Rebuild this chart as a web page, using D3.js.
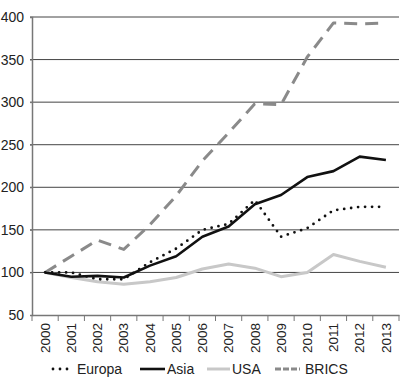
<!DOCTYPE html>
<html lang="en">
<head>
<meta charset="UTF-8">
<script src="https://d3js.org/d3.v7.min.js"></script>
<style>
  html, body { margin: 0; padding: 0; background: #fff; overflow: hidden; }
  text { font-family: "Liberation Sans", Arial, sans-serif; fill: #222; }
</style>
</head>
<body>
<svg id="chart" width="400" height="388"></svg>
<script>
// data (index, 2000 = 100)
const years = ["2000","2001","2002","2003","2004","2005","2006","2007","2008","2009","2010","2011","2012","2013"];
const europa = [100, 100, 92, 92, 112, 128, 150, 157, 185, 142, 152, 173, 177, 177];
const asia   = [100, 95, 96, 94, 108, 119, 142, 154, 180, 191, 212, 219, 236, 232];
const usa    = [100, 94, 89, 86, 89, 94, 104, 110, 105, 95, 100, 121, 113, 106];
const brics  = [100, 119, 138, 127, 156, 190, 231, 264, 298, 297, 353, 393, 392, 393];
const yTicks = [50, 100, 150, 200, 250, 300, 350, 400];

const series = [
  { name: "BRICS",  values: brics,  color: "#8a8a8a", width: 3,   dash: "13,8", cap: "butt" },
  { name: "USA",    values: usa,    color: "#c8c8c8", width: 3,   dash: null,   cap: "butt" },
  { name: "Asia",   values: asia,   color: "#111",    width: 2.6, dash: null,   cap: "butt" },
  { name: "Europa", values: europa, color: "#111",    width: 2.8, dash: "0,7",  cap: "round" }
];

const svg = d3.select("#chart");
const margin = { top: 17, right: 1, bottom: 73, left: 32 };
const width = 400 - margin.left - margin.right;
const height = 388 - margin.top - margin.bottom;
const g = svg.append("g").attr("transform", `translate(${margin.left},${margin.top})`);

const x = d3.scaleBand().domain(years).range([0, width]);
const y = d3.scaleLinear().domain([50, 400]).range([height, 0]);

// gridlines
g.append("g")
  .selectAll("line")
  .data(yTicks.slice(1))
  .join("line")
  .attr("x1", -2).attr("x2", width)
  .attr("y1", d => y(d)).attr("y2", d => y(d))
  .attr("stroke", "#444").attr("stroke-width", 1);

// y axis
const yAxis = g.append("g").call(d3.axisLeft(y).tickValues(yTicks).tickSize(2).tickPadding(6));
yAxis.select(".domain").attr("stroke", "#777").attr("stroke-width", 1.5);
yAxis.selectAll(".tick line").attr("stroke", "#777");
yAxis.selectAll("text").style("font-size", "14px");

// x axis with ticks between categories
const xAxis = g.append("g").attr("transform", `translate(0,${height})`)
  .call(d3.axisBottom(x).tickSize(0).tickSizeOuter(0));
xAxis.select(".domain").attr("stroke", "#777").attr("stroke-width", 1.5);
xAxis.selectAll(".tick text")
  .style("font-size", "13.5px")
  .attr("transform", "rotate(-90)")
  .attr("text-anchor", "end")
  .attr("x", -8).attr("y", 0).attr("dy", "0.35em");
xAxis.append("g").selectAll("line")
  .data(years.concat(["end"]))
  .join("line")
  .attr("x1", (d, i) => i * x.step()).attr("x2", (d, i) => i * x.step())
  .attr("y1", 0).attr("y2", 6)
  .attr("stroke", "#777");

const line = d3.line()
  .x((d, i) => x(years[i]) + x.bandwidth() / 2)
  .y(d => y(d));

series.forEach(s => {
  g.append("path")
    .datum(s.values)
    .attr("fill", "none")
    .attr("stroke", s.color)
    .attr("stroke-width", s.width)
    .attr("stroke-dasharray", s.dash)
    .attr("stroke-linecap", s.cap)
    .attr("stroke-linejoin", "round")
    .attr("d", line);
});

// legend
const legendItems = [
  { name: "Europa", x0: 53,  x1: 72,  tx: 77 },
  { name: "Asia",   x0: 140, x1: 165, tx: 167 },
  { name: "USA",    x0: 207, x1: 230, tx: 232 },
  { name: "BRICS",  x0: 275, x1: 300, tx: 305 }
];
const leg = svg.append("g").attr("transform", "translate(0,369)");
legendItems.forEach(it => {
  const s = series.find(d => d.name === it.name);
  leg.append("line")
    .attr("x1", it.x0).attr("x2", it.x1).attr("y1", 0).attr("y2", 0)
    .attr("stroke", s.color).attr("stroke-width", s.width)
    .attr("stroke-dasharray", it.name === "BRICS" ? "6,2" : s.dash)
    .attr("stroke-linecap", s.cap);
  leg.append("text").attr("x", it.tx).attr("y", 0).attr("dy", "0.35em")
    .style("font-size", "14px").text(it.name);
});
</script>
</body>
</html>
